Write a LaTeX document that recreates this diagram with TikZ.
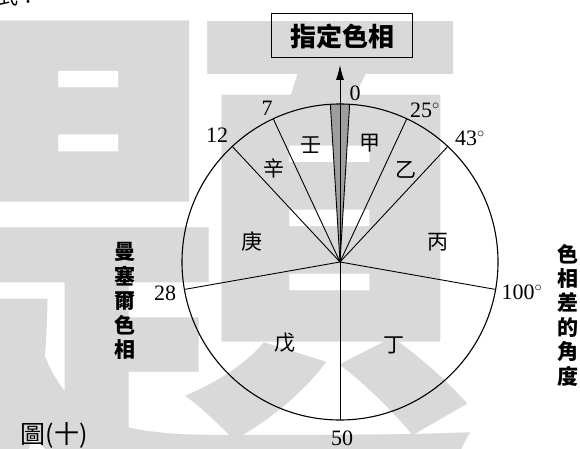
\documentclass[tikz,border=0pt]{standalone}
\usepackage{fontspec}
\setmainfont{Liberation Serif}
\newfontfamily\cjk{Noto Sans CJK TC}
\usetikzlibrary{arrows.meta}
\definecolor{wmgray}{gray}{0.85}
\definecolor{wedgegray}{gray}{0.62}
\tikzset{
  num/.style={font=\fontsize{22}{22}\selectfont,inner sep=0pt},
  hue/.style={font=\cjk\fontsize{21}{21}\selectfont,inner sep=0pt},
  side/.style={font=\cjk\bfseries\fontsize{21}{24.4}\selectfont,align=center,inner sep=0pt},
  spoke/.style={line width=0.9pt},
}
\begin{document}
\begin{tikzpicture}[x=1pt,y=1pt,>={Latex[length=15pt,width=8pt]}]
    \useasboundingbox (0,0) rectangle (580,449);
    % watermark
    \node [text=wmgray,inner sep=0pt,font=\cjk\bfseries\fontsize{530}{530}\selectfont] (wm) at (214,184) {題};
    \node [font=\cjk\fontsize{20}{20}\selectfont,inner sep=0pt,anchor=west] (top) at (-2,452) {式：};
    % wheel
    \coordinate (O) at (340,187);
    \fill [wedgegray] (O) -- ([shift={(O)}]86.5:158) arc[start angle=86.5,end angle=93.5,radius=158] -- cycle;
    \path (O) ++(86.5:158) coordinate (w1);
    \path (O) ++(93.5:158) coordinate (w2);
    \path (O) ++(65:158) coordinate (h25);
    \path (O) ++(47:158) coordinate (h43);
    \path (O) ++(-10:158) coordinate (h100);
    \path (O) ++(-90:158) coordinate (h50);
    \path (O) ++(190:158) coordinate (h28);
    \path (O) ++(133:158) coordinate (h12);
    \path (O) ++(115:158) coordinate (h7);
    \draw [line width=1.1pt] (O) circle (158);
    \draw [spoke] (O) -- (w1);
    \draw [spoke] (O) -- (w2);
    \draw [spoke] (O) -- (h25);
    \draw [spoke] (O) -- (h43);
    \draw [spoke] (O) -- (h100);
    \draw [spoke] (O) -- (h50);
    \draw [spoke] (O) -- (h28);
    \draw [spoke] (O) -- (h12);
    \draw [spoke] (O) -- (h7);
    % target hue
    \node [draw,line width=1pt,minimum width=141pt,minimum height=44pt,inner sep=0pt,
           font=\cjk\bfseries\fontsize{26}{26}\selectfont] (target) at (342,413) {指定色相};
    \coordinate (tip) at (340,384);
    \draw [->,line width=0.9pt] (O) -- (tip);
    % angle labels
    \node [num] (l0) at (355,356) {0};
    \node [num] (l25) at (425,339) {25$^{\circ}$};
    \node [num] (l43) at (470,311) {43$^{\circ}$};
    \node [num] (l100) at (522,157) {100$^{\circ}$};
    \node [num] (l50) at (342,11) {50};
    \node [num] (l28) at (165,156) {28};
    \node [num] (l12) at (217,314) {12};
    \node [num] (l7) at (267,341) {7};
    % sectors
    \node [hue] (ren) at (311,304) {壬};
    \node [hue] (jia) at (370,306) {甲};
    \node [hue] (xin) at (274,281) {辛};
    \node [hue] (yi) at (406,279) {乙};
    \node [hue] (geng) at (252,207) {庚};
    \node [hue] (bing) at (438,207) {丙};
    \node [hue] (wu) at (285,106) {戊};
    \node [hue] (ding) at (394,104) {丁};
    % side captions
    \node [side] (munsell) at (125,148) {曼\\塞\\爾\\色\\相};
    \node [side] (diff) at (568,134) {色\\相\\差\\的\\角\\度};
    \node [inner sep=0pt,font=\cjk\fontsize{25}{25}\selectfont] (fig) at (54,14) {圖(十)};
\end{tikzpicture}
\end{document}
